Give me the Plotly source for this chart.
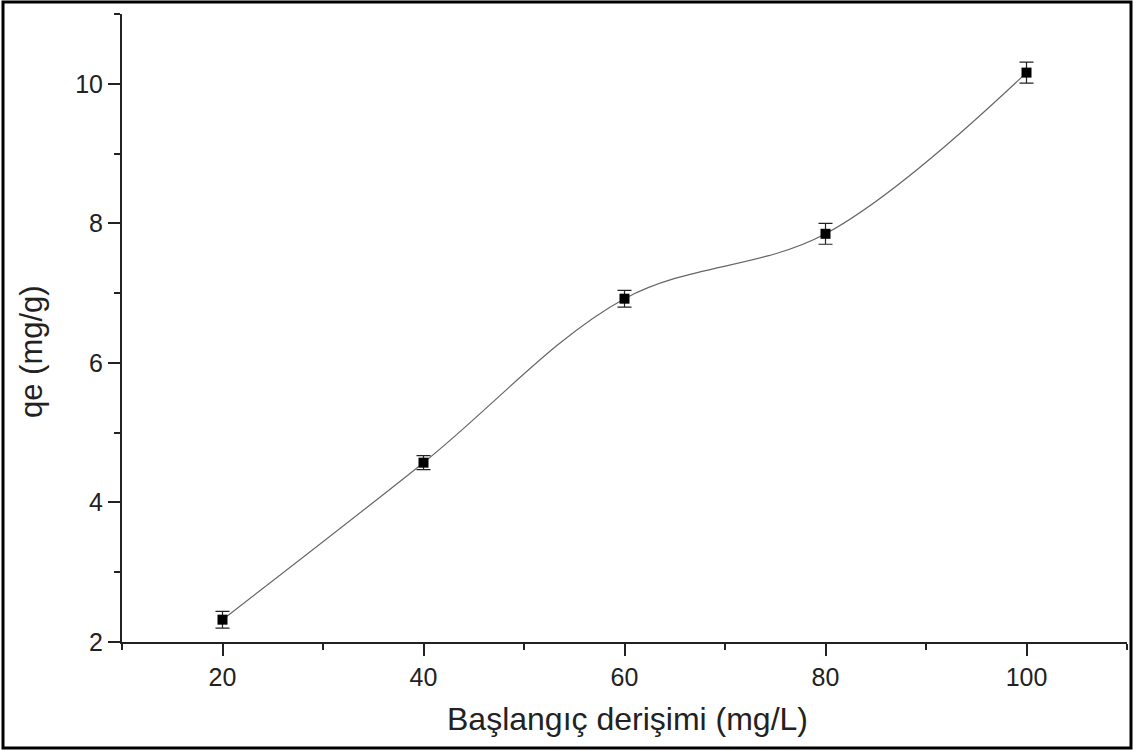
import plotly.graph_objects as go

concentration = [20, 40, 60, 80, 100]
qe = [2.32, 4.57, 6.92, 7.85, 10.16]
qe_err = [0.12, 0.10, 0.12, 0.15, 0.15]

x_ticks = [20, 40, 60, 80, 100]
y_ticks = [2, 4, 6, 8, 10]

fig = go.Figure()
fig.add_trace(go.Scatter(
    x=concentration, y=qe, mode="lines",
    line=dict(color="#666666", width=1.2, shape="spline", smoothing=1.0),
    hoverinfo="skip", showlegend=False,
))
fig.add_trace(go.Scatter(
    x=concentration, y=qe, mode="markers",
    marker=dict(symbol="square", size=10, color="black"),
    error_y=dict(type="data", array=qe_err, visible=True, color="#222222", thickness=1.2, width=7),
    showlegend=False,
))

L, R, T, B = 122, 7, 14, 109
W, H = 1134, 751
pw, ph = W - L - R, H - T - B

def px_x(x):
    return (x - L) / pw

def px_y(y):
    return (T + ph - y) / ph

fig.update_layout(
    width=W, height=H,
    margin=dict(l=L, r=R, t=T, b=B),
    paper_bgcolor="white", plot_bgcolor="white",
    font=dict(family="Liberation Sans, Arial, sans-serif", color="#222222", size=24),
    xaxis=dict(
        range=[10, 110], tickvals=x_ticks, ticks="outside", ticklen=12, tickwidth=2,
        tickcolor="#222222", showline=True, linecolor="#222222", linewidth=2,
        showgrid=False, zeroline=False,
        minor=dict(tickvals=[10, 30, 50, 70, 90, 110], ticks="outside", ticklen=6, tickwidth=2, tickcolor="#222222"),
        tickfont=dict(size=25),
    ),
    yaxis=dict(
        range=[2, 11], tickvals=y_ticks, ticks="outside", ticklen=12, tickwidth=2,
        tickcolor="#222222", showline=True, linecolor="#222222", linewidth=2,
        showgrid=False, zeroline=False,
        minor=dict(tickvals=[3, 5, 7, 9, 11], ticks="outside", ticklen=6, tickwidth=2, tickcolor="#222222"),
        tickfont=dict(size=25),
    ),
    annotations=[
        dict(text="Başlangıç derişimi (mg/L)", xref="paper", yref="paper",
             x=px_x(627), y=px_y(719), xanchor="center", yanchor="middle",
             showarrow=False, font=dict(size=32)),
        dict(text="qe (mg/g)", xref="paper", yref="paper", textangle=-90,
             x=px_x(31), y=px_y(352), xanchor="center", yanchor="middle",
             showarrow=False, font=dict(size=31)),
    ],
    shapes=[dict(
        type="rect", xref="paper", yref="paper",
        x0=px_x(3), x1=px_x(1131), y0=px_y(748), y1=px_y(2),
        line=dict(color="black", width=3), fillcolor="rgba(0,0,0,0)", layer="below",
    )],
)

fig.write_html("out.html")
